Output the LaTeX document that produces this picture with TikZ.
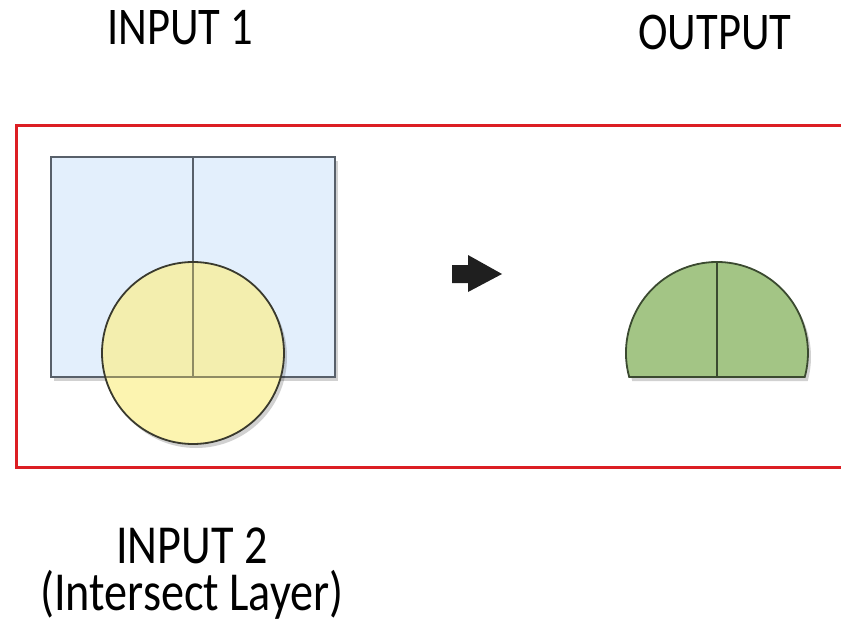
\documentclass[tikz,border=0pt]{standalone}
\usepackage{fontspec}
\newfontfamily\lblfont[FakeStretch=0.84]{Carlito}
\usetikzlibrary{shadows}

\definecolor{framered}{HTML}{DC1E23}
\definecolor{polyblue}{HTML}{E3EFFC}
\definecolor{polyedge}{HTML}{58606A}
\definecolor{circyellow}{HTML}{FCF4B0}
\definecolor{circmix}{HTML}{F3EEAE}
\definecolor{circedge}{HTML}{3A3A2E}
\definecolor{innerline}{HTML}{8E8B63}
\definecolor{resgreen}{HTML}{A3C585}
\definecolor{resedge}{HTML}{3B4A30}

\tikzset{
  toplabel/.style={font=\lblfont\fontsize{53}{60}\selectfont, anchor=base, inner sep=0pt},
  botlabel/.style={font=\lblfont\fontsize{55}{47}\selectfont, align=center, anchor=base, inner sep=0pt},
  softshadow/.style={drop shadow={shadow xshift=3pt, shadow yshift=-4pt, opacity=0.18, fill=black}},
  polygon/.style={fill=polyblue, draw=polyedge, line width=1.8pt},
}

\begin{document}
\begin{tikzpicture}[x=1pt, y=-1pt]
  \useasboundingbox (0,0) rectangle (841,634);
  \clip (0,0) rectangle (841,634);

  % labels
  \node[toplabel] (in1) at (180,45) {INPUT 1};
  \node[toplabel] (out) at (715,50) {OUTPUT};
  \node[botlabel] (in2) at (192,610) {INPUT 2\\(Intersect Layer)};

  % red frame, open to the right
  \draw[framered, line width=3pt] (870,125) -- (16.5,125) -- (16.5,467) -- (870,467);

  % input 1: two rectangular polygons
  \path[polygon, softshadow] (51,157) rectangle (335,377);
  \draw[polyedge, line width=1.8pt] (193,157) -- (193,377);

  % input 2: circle overlay
  \path[fill=circyellow, softshadow] (193,353) circle[radius=91];
  \begin{scope}
    \clip (51,157) rectangle (335,377);
    \fill[circmix] (193,353) circle[radius=91];
  \end{scope}
  \draw[innerline, line width=2.6pt] (193,262.5) -- (193,377);
  \draw[innerline, line width=2.6pt] (105.2,377) -- (280.8,377);
  \draw[circedge, line width=1.8pt] (193,353) circle[radius=91];

  % process arrow
  \fill[black!88] (452,265) -- (468,265) -- (468,255) -- (502,274)
    -- (468,292) -- (468,283) -- (452,283) -- cycle;

  % output: intersected result
  \path[fill=resgreen, draw=resedge, line width=1.8pt, softshadow]
    (629.2,377) arc[start angle=164.7, end angle=375.3, radius=91] -- cycle;
  \draw[resedge, line width=1.8pt] (717,262) -- (717,377);
\end{tikzpicture}
\end{document}
